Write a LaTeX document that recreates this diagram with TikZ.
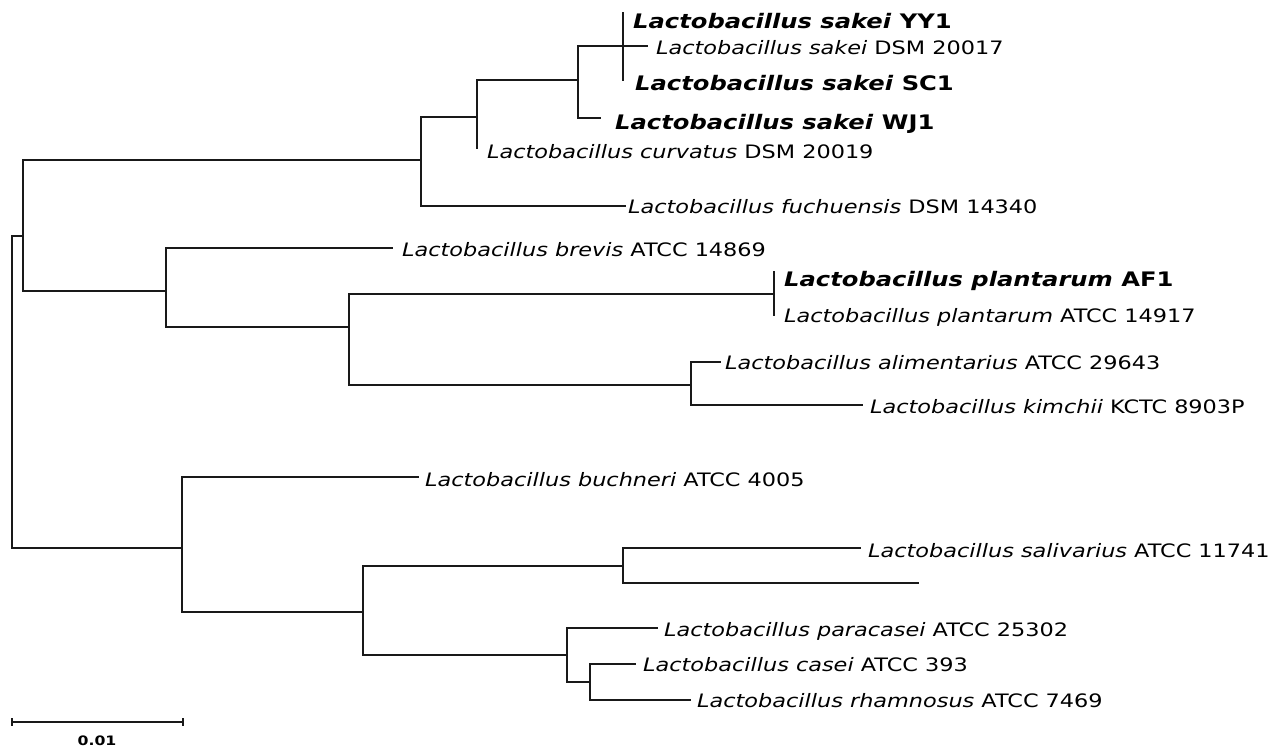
\documentclass[tikz,border=0pt]{standalone}
\usepackage{fontspec}
\setmainfont{DejaVu Sans}[FakeStretch=1.21]
\begin{document}
\begin{tikzpicture}[x=1pt,y=-1pt,
  branch/.style={line width=1.7pt,line cap=rect,black!90},
  lab/.style={anchor=base west,inner sep=0pt,font=\fontsize{18.5}{22}\selectfont},
  biglab/.style={anchor=base west,inner sep=0pt,font=\fontsize{20}{24}\selectfont\bfseries}]
\useasboundingbox (0,0) rectangle (1272,748);
% internal nodes
\coordinate (R) at (12,392);
\coordinate (A) at (23,236);
\coordinate (B) at (421,160);
\coordinate (C) at (477,117);
\coordinate (D) at (578,80);
\coordinate (E) at (623,46);
\coordinate (F) at (166,291);
\coordinate (G) at (349,327);
\coordinate (H) at (774,294);
\coordinate (I) at (691,385);
\coordinate (J) at (182,548);
\coordinate (K) at (363,612);
\coordinate (L) at (623,566);
\coordinate (M) at (567,655);
\coordinate (N) at (590,682);
% leaves
\coordinate (yy1) at (623,13);
\coordinate (dsm17) at (647,46);
\coordinate (sc1) at (623,80);
\coordinate (wj1) at (600,118);
\coordinate (curv) at (477,148);
\coordinate (fuch) at (625,206);
\coordinate (brev) at (392,248);
\coordinate (af1) at (774,272);
\coordinate (pl) at (774,315);
\coordinate (alim) at (720,362);
\coordinate (kim) at (862,405);
\coordinate (buch) at (418,477);
\coordinate (sal) at (860,548);
\coordinate (blank) at (918,583);
\coordinate (para) at (657,628);
\coordinate (casei) at (635,664);
\coordinate (rham) at (690,700);
% branches
\draw[branch] (R) |- (A);
\draw[branch] (R) |- (J);
\draw[branch] (A) |- (B);
\draw[branch] (A) |- (F);
\draw[branch] (B) |- (C);
\draw[branch] (B) |- (fuch);
\draw[branch] (C) |- (D);
\draw[branch] (C) |- (curv);
\draw[branch] (D) |- (E);
\draw[branch] (D) |- (wj1);
\draw[branch] (E) |- (yy1);
\draw[branch] (E) |- (dsm17);
\draw[branch] (E) |- (sc1);
\draw[branch] (F) |- (brev);
\draw[branch] (F) |- (G);
\draw[branch] (G) |- (H);
\draw[branch] (G) |- (I);
\draw[branch] (H) |- (af1);
\draw[branch] (H) |- (pl);
\draw[branch] (I) |- (alim);
\draw[branch] (I) |- (kim);
\draw[branch] (J) |- (buch);
\draw[branch] (J) |- (K);
\draw[branch] (K) |- (L);
\draw[branch] (K) |- (M);
\draw[branch] (L) |- (sal);
\draw[branch] (L) |- (blank);
\draw[branch] (M) |- (para);
\draw[branch] (M) |- (N);
\draw[branch] (N) |- (casei);
\draw[branch] (N) |- (rham);
% labels
\node[biglab] (tyy1) at (633,28) {\textit{Lactobacillus sakei} YY1};
\node[lab] (tdsm17) at (656,54) {\textit{Lactobacillus sakei} DSM 20017};
\node[biglab] (tsc1) at (635,90) {\textit{Lactobacillus sakei} SC1};
\node[biglab] (twj1) at (615,129) {\textit{Lactobacillus sakei} WJ1};
\node[lab] (tcurv) at (487,158.5) {\textit{Lactobacillus curvatus} DSM 20019};
\node[lab] (tfuch) at (628,213.5) {\textit{Lactobacillus fuchuensis} DSM 14340};
\node[lab] (tbrev) at (402,256) {\textit{Lactobacillus brevis} ATCC 14869};
\node[biglab] (taf1) at (784,286) {\textit{Lactobacillus plantarum} AF1};
\node[lab] (tpl) at (784,322) {\textit{Lactobacillus plantarum} ATCC 14917};
\node[lab] (talim) at (725,369.5) {\textit{Lactobacillus alimentarius} ATCC 29643};
\node[lab] (tkim) at (870,413.5) {\textit{Lactobacillus kimchii} KCTC 8903P};
\node[lab] (tbuch) at (425,486) {\textit{Lactobacillus buchneri} ATCC 4005};
\node[lab] (tsal) at (868,557.5) {\textit{Lactobacillus salivarius} ATCC 11741};
\node[lab] (tpara) at (664,636) {\textit{Lactobacillus paracasei} ATCC 25302};
\node[lab] (tcasei) at (643,671) {\textit{Lactobacillus casei} ATCC 393};
\node[lab] (trham) at (697,707) {\textit{Lactobacillus rhamnosus} ATCC 7469};
% scale bar
\coordinate (sb1) at (12,722);
\coordinate (sb2) at (183,722);
\draw[line width=1.5pt,black!90] (sb1) -- (sb2);
\draw[line width=1.5pt,black!90] ([yshift=4pt]sb1) -- ([yshift=-4pt]sb1);
\draw[line width=1.5pt,black!90] ([yshift=4pt]sb2) -- ([yshift=-4pt]sb2);
\node[inner sep=0pt,font=\fontsize{13}{15}\selectfont\bfseries] (sbl) at (97,741) {0.01};
\end{tikzpicture}
\end{document}
